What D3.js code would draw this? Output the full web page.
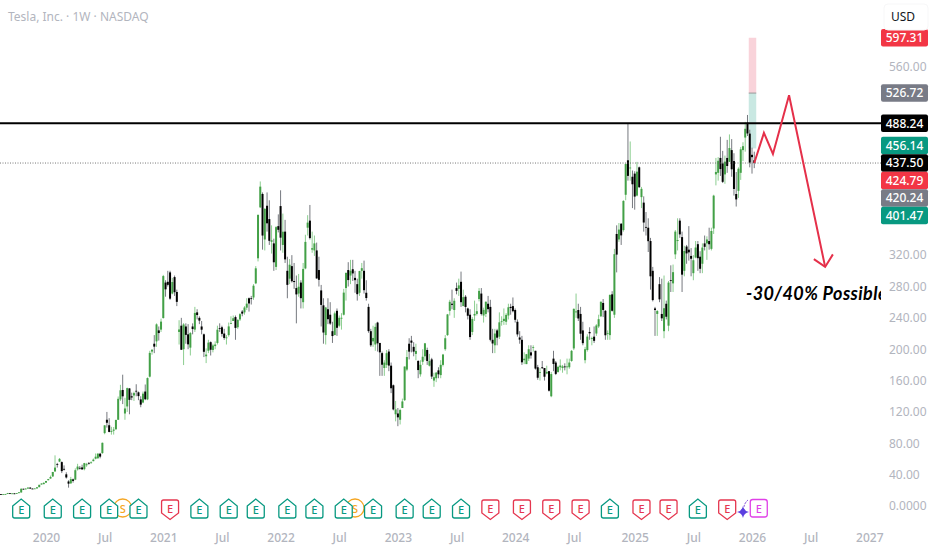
<!DOCTYPE html>
<html><head><meta charset="utf-8">
<style>html,body{margin:0;padding:0;background:#fff;overflow:hidden}svg{display:block}
text{font-family:"Noto Sans",sans-serif}</style>
<script src="https://cdn.jsdelivr.net/npm/d3@7"></script></head><body>
<svg id="c" width="932" height="550"></svg>
<script>
const firstBar = "2019-08-19", lastBar = "2026-01-12";
const opens = [
// 2019
15.1,14.6,15.0,15.3,16.3,16.0,16.1,15.5,16.5,17.3, 22.0,21.4,22.2,23.4,22.2,22.0,22.4,24.0,27.4,27.9,
// 2020
29.8,32.9,35.0,37.7,44.0,53.6,56.6,56.0,47.4,40.4, 31.3,28.9,34.0,33.6,46.6,48.7,49.2,47.0,52.0,55.0,
55.0,57.2,60.3,61.0,66.7,67.5,93.0,110.0,103.0,94.8, 96.0,98.0,110.0,136.0,148.0,118.0,127.0,150.0,140.0,141.0,
147.0,145.0,136.0,132.0,146.0,136.0,165.0,197.0,207.0,210.0, 224.0,225.0,
// 2021
239.8,285.0,286.0,298.0,271.0,292.0,273.0,222.0,230.0,200.0, 229.0,219.0,202.0,229.0,225.0,247.0,240.0,229.0,219.0,191.0,
198.0,209.0,199.0,204.0,208.0,227.0,228.0,220.0,215.0,218.0, 233.0,236.0,241.0,228.0,238.0,248.0,247.0,253.0,265.0,265.0,
266.0,284.0,316.0,381.0,398.0,340.0,383.0,366.0,337.0,335.0, 305.0,357.0,
// 2022
382.6,333.0,350.0,300.0,290.0,306.0,287.0,278.0,271.0,285.0, 260.0,303.0,355.0,364.0,327.0,326.0,326.0,301.0,275.0,256.0,
218.0,251.0,244.0,223.0,218.0,249.0,230.0,239.0,244.0,278.0, 301.0,294.0,302.0,291.0,283.0,272.0,300.0,300.0,272.0,254.0,
223.0,210.0,206.0,234.0,208.0,195.0,176.0,180.0,197.0,179.0, 154.0,117.0,
// 2023
118.0,110.0,125.0,135.0,174.0,207.0,211.0,203.0,194.0,185.0, 168.0,184.0,191.0,199.0,179.0,187.0,160.0,163.0,173.0,167.0,
180.0,200.0,218.0,249.0,258.0,250.0,278.0,277.0,286.0,255.0, 267.0,252.0,244.0,222.0,243.0,245.0,264.0,271.0,243.0,245.0,
258.0,254.0,212.0,205.0,224.0,216.0,235.0,236.0,235.0,243.0, 254.0,255.0,
// 2024
250.0,235.0,215.0,212.0,186.0,181.0,188.0,196.0,202.0,198.0, 177.0,170.0,177.0,176.0,169.0,172.0,140.0,188.0,183.0,171.0,
177.0,176.0,178.0,177.0,177.0,185.0,201.0,247.0,250.0,245.0, 224.0,186.0,199.0,222.0,214.0,216.0,220.0,229.0,242.0,259.0,
249.0,220.0,218.0,270.0,244.0,347.0,340.0,360.0,352.0,397.0, 441.0,431.0,420.0,
// 2025
424.0,396.0,432.0,394.0,387.0,356.0,355.0,338.0,300.0,252.0, 245.0,283.0,245.0,223.0,258.0,230.0,288.0,284.0,321.0,338.0,
364.0,343.0,300.0,331.0,327.0,319.0,297.0,317.0,334.0,318.0, 309.0,335.0,335.0,338.0,328.0,354.0,423.0,425.0,444.0,437.0,
423.0,444.0,439.0,454.0,440.0,398.0,402.0,425.0,454.0,470.0, 489.0,475.0,
// 2026
448.0,441.0];
const highs = [
15.3,15.2,15.5,16.7,16.4,16.6,16.2,16.6,17.8,22.7, 22.0,22.7,23.8,24.2,22.5,22.6,24.2,27.2,29.0,30.3,
32.0,34.6,38.8,43.5,64.6,55.0,61.2,56.9,51.8,43.0, 32.9,37.1,35.0,48.0,53.8,51.0,52.7,55.0,55.0,55.9,
57.0,60.6,67.0,67.5,67.8,81.0,103.0,120.0,112.0,101.0, 100.7,110.0,139.7,154.6,167.5,138.0,151.0,150.3,144.6,145.8,
155.3,146.0,140.0,146.0,155.0,164.0,198.0,200.0,218.0,233.0, 229.0,239.0,
294.8,288.0,300.0,300.1,291.0,294.0,276.0,237.0,240.0,233.3, 233.0,232.0,222.0,233.0,254.0,251.0,242.0,236.0,220.0,201.0,
212.0,210.0,207.0,210.0,230.0,233.0,230.0,226.0,218.0,234.0, 242.0,243.0,243.0,238.0,246.0,250.0,255.0,265.0,266.0,268.0,
283.0,306.0,372.0,414.0,400.0,380.0,400.0,390.0,358.0,341.0, 357.0,372.0,
402.7,373.0,365.0,318.0,315.0,320.0,310.0,294.0,296.0,288.0, 310.0,346.0,371.0,384.0,350.0,345.0,336.0,318.0,282.0,265.0,
254.0,265.0,260.0,235.0,248.0,252.0,243.0,246.0,277.0,298.0, 311.0,314.0,314.0,300.0,290.0,300.0,310.0,313.0,288.0,258.0,
226.0,230.0,233.0,235.0,208.0,197.0,186.0,199.0,200.0,183.0, 155.0,134.0,
125.0,124.0,137.0,178.0,199.0,214.0,217.0,209.0,207.0,186.0, 186.0,200.0,208.0,202.0,194.0,189.0,170.0,171.0,177.0,186.0,
194.0,218.0,245.0,263.0,276.0,265.0,285.0,290.0,299.0,276.0, 269.0,253.0,251.0,241.0,262.0,258.0,278.0,278.0,253.0,261.0,
268.0,263.0,226.0,226.0,226.0,247.0,242.0,252.0,246.0,258.0, 258.0,266.0,
252.0,238.0,223.0,217.0,196.0,194.0,205.0,205.0,205.0,198.0, 180.0,176.0,185.0,176.0,179.0,172.0,171.0,198.0,185.0,179.0,
187.0,180.0,182.0,188.0,188.0,199.0,252.0,271.0,258.0,254.0, 235.0,203.0,219.0,228.0,216.0,229.0,232.0,244.0,261.0,264.0,
250.0,224.0,270.0,274.0,328.0,358.0,361.0,361.0,390.0,437.0, 488.5,465.0,428.0,
427.0,439.0,433.0,407.0,395.0,375.0,367.0,342.0,305.0,254.0, 250.0,292.0,290.0,294.0,262.0,287.0,307.0,308.0,352.0,367.0,
367.0,350.0,332.0,333.0,357.0,329.0,320.0,338.0,338.0,325.0, 335.0,345.0,344.0,355.0,355.0,397.0,444.0,445.0,471.0,453.0,
447.0,467.0,474.0,468.0,450.0,426.0,432.0,458.0,464.0,490.0, 498.8,480.0,
457.0,452.0];
const lows = [
14.0,14.5,14.9,15.2,15.8,15.6,15.1,15.3,16.2,16.9, 20.9,21.2,22.0,22.0,21.8,21.9,22.2,23.9,27.3,27.7,
29.3,32.7,34.8,37.0,44.0,49.0,56.0,42.0,45.3,35.0, 23.4,28.2,29.8,33.0,45.2,46.5,46.0,45.5,50.0,52.8,
54.0,57.0,59.5,60.0,60.8,66.5,91.5,100.0,94.0,91.0, 91.1,96.9,110.0,134.0,130.0,110.0,120.0,117.0,135.0,134.0,
140.0,135.0,126.0,131.0,135.0,135.0,164.0,193.0,195.0,203.0, 211.0,222.0,
239.0,267.0,280.0,263.0,270.0,268.0,255.0,206.0,199.0,179.8, 207.0,200.0,192.0,219.0,222.0,238.0,232.0,219.0,190.0,182.3,
195.0,192.0,196.0,200.0,206.0,222.0,216.0,212.0,206.0,216.0, 232.0,236.0,212.0,226.0,236.0,242.0,244.0,250.0,248.0,257.0,
263.0,283.0,312.0,380.0,327.0,326.0,350.0,333.0,322.0,300.0, 301.0,349.0,
326.0,323.0,310.0,265.0,283.0,285.0,277.0,233.0,267.0,252.0, 252.0,302.0,345.0,340.0,323.0,319.0,290.0,280.0,229.0,207.0,
206.0,232.0,231.0,208.0,218.0,217.0,228.0,225.0,243.0,262.0, 280.0,283.0,287.0,272.0,262.0,268.0,290.0,271.0,262.0,221.0,
203.0,203.0,198.0,197.0,166.0,166.0,166.0,176.0,172.0,144.0, 122.0,108.0,
101.8,104.0,127.0,134.0,172.0,187.0,196.0,191.0,186.0,163.0, 165.0,180.0,186.0,180.0,178.0,162.0,152.0,158.0,163.0,163.0,
178.0,198.0,217.0,243.0,251.0,240.0,270.0,268.0,254.0,255.0, 247.0,238.0,212.0,218.0,236.0,243.0,261.0,243.0,234.0,241.0,
247.0,210.0,195.0,195.0,205.0,213.0,230.0,231.0,231.0,238.0, 244.0,247.0,
234.0,216.0,207.0,180.0,181.0,181.0,185.0,188.0,197.0,174.0, 161.0,160.0,175.0,160.0,168.0,146.0,138.8,172.0,167.0,170.0,
173.0,170.0,173.0,168.0,175.0,184.0,199.0,240.0,236.0,212.0, 205.0,182.0,197.0,212.0,205.0,208.0,217.0,227.0,241.0,241.0,
212.0,212.0,212.0,248.0,240.0,298.0,337.0,333.0,350.0,390.0, 415.0,415.0,380.0,
378.0,395.0,406.0,380.0,350.0,345.0,324.0,276.0,261.0,217.0, 217.0,260.0,236.0,214.0,238.0,223.0,273.0,273.0,315.0,326.0,
342.0,273.0,293.0,309.0,313.0,293.0,288.0,316.0,300.0,297.0, 297.0,326.0,314.0,327.0,326.0,347.0,409.0,415.0,421.0,412.0,
411.0,425.0,439.0,420.0,396.0,382.0,393.0,416.0,440.0,452.0, 472.0,432.0,
424.0,431.0];
const closes = [
14.2,15.0,15.2,16.4,16.0,16.1,15.5,16.4,17.5,21.9, 21.3,22.2,23.5,22.2,22.0,22.4,23.9,27.0,28.7,29.5,
31.9,34.3,37.0,43.4,49.0,53.5,60.1,44.5,46.9,36.4, 28.5,34.3,32.0,45.7,50.3,48.3,46.8,54.7,53.3,54.7,
55.7,59.2,62.9,66.7,63.0,80.6,102.9,106.2,94.5,95.4, 97.5,109.8,136.7,147.6,139.9,124.4,150.4,135.4,138.4,144.0,
146.6,140.2,129.3,143.3,136.2,163.2,195.3,199.3,203.3,231.7, 220.6,235.2,
293.3,276.4,282.1,264.5,285.7,272.8,260.4,225.2,199.3,231.6, 218.3,206.2,220.6,225.7,246.3,243.6,236.5,224.9,196.7,193.2,
208.4,199.3,204.8,206.0,224.9,226.6,219.6,214.4,215.0,229.1, 233.3,239.5,227.2,237.5,244.7,245.4,253.2,258.1,258.4,264.5,
281.0,303.2,371.3,407.4,345.0,379.0,360.6,338.3,339.0,310.9, 355.7,352.3,
342.3,349.9,314.6,282.1,307.8,286.7,285.7,269.9,279.7,265.1, 302.4,336.9,361.5,341.8,328.9,335.0,290.3,288.5,256.5,221.3,
253.2,238.3,232.7,216.8,245.7,227.3,240.1,240.1,272.2,297.3, 288.2,300.0,296.7,288.1,270.2,299.7,303.4,275.3,265.3,223.1,
205.0,214.4,228.5,207.5,196.0,180.2,182.9,194.9,179.1,150.2, 123.2,123.2,
113.1,122.4,133.4,177.9,190.0,196.9,208.3,196.9,197.8,173.4, 180.1,190.4,207.5,185.0,185.0,165.1,164.3,170.1,168.0,180.1,
193.2,214.0,244.4,260.5,256.6,261.8,274.4,281.4,260.0,266.4, 253.9,242.7,215.5,238.6,245.0,248.5,274.4,244.9,250.2,260.5,
251.1,212.0,207.3,220.0,214.7,234.3,235.6,238.8,243.8,253.5, 252.5,248.5,
237.5,218.9,212.2,183.3,187.9,193.6,200.0,192.0,202.6,175.3, 163.6,170.8,175.8,164.9,171.1,147.1,168.3,181.2,168.5,177.5,
179.2,178.1,177.5,178.0,183.0,197.9,251.5,248.2,239.2,219.8, 207.7,200.0,216.1,220.3,214.1,210.7,230.3,238.3,260.5,250.1,
217.8,220.7,269.2,249.0,321.2,320.7,352.6,345.2,389.2,436.2, 421.1,431.7,410.4,
394.7,426.5,406.6,404.6,361.6,355.8,337.8,293.0,262.7,250.0, 248.7,263.6,239.4,252.3,241.4,285.0,287.2,298.3,350.0,339.3,
346.5,295.1,325.3,322.2,323.6,315.4,313.5,329.7,316.1,302.6, 329.7,330.6,340.0,333.9,350.8,395.9,426.1,440.4,429.8,413.5,
439.3,433.7,456.6,429.5,404.4,391.1,430.2,455.0,459.0,481.2, 475.2,438.1,
445.0,437.5];

const xTickDates = ["2020-01-06","2020-07-06","2021-01-04","2021-07-05","2022-01-03","2022-07-04","2023-01-02","2023-07-03","2024-01-01","2024-07-01","2025-01-06","2025-07-07","2026-01-05","2026-07-06","2027-01-04"];
const xTickLabels = ["2020","Jul","2021","Jul","2022","Jul","2023","Jul","2024","Jul","2025","Jul","2026","Jul","2027"];
const yTicks = [0,40,80,120,160,200,240,280,320,560];

const priceLabels = [597.31,526.72,488.24,456.14,437.50,424.79,420.24,401.47];
const priceLabelColors = ["#f23645","#787b86","#000000","#089981","#000000","#f23645","#787b86","#089981"];
const resistance = 488.24, lastPrice = 437.50;
const stopPrice = 597.31, entryPrice = 526.72, targetPrice = 456.14;
const positionDates = ["2025-12-29","2026-01-19"];

const forecastDates = ["2026-01-12","2026-02-11","2026-03-11","2026-04-30","2026-08-20"];
const forecastPrices = [437.5,476,449,524,305];
const arrowDates = ["2026-07-16","2026-08-20","2026-09-13"];
const arrowPrices = [315,305,321];

const earningsDates = ["2019-10-21","2020-01-27","2020-04-27","2020-07-20","2020-10-19","2021-01-25","2021-04-26","2021-07-26","2021-10-18","2022-01-24","2022-04-18","2022-07-18","2022-10-17","2023-01-23","2023-04-17","2023-07-17","2023-10-16","2024-01-22","2024-04-22","2024-07-22","2024-10-21","2025-01-27","2025-04-21","2025-07-21","2025-10-20"];
const earningsBeat = [1,1,1,1,1,0,1,1,1,1,1,1,1,1,1,1,0,0,0,0,1,0,0,1,0];
const nextEarningsDate = "2026-01-26";
const splitDates = ["2020-08-31","2022-08-22"];
const dividendStarDate = "2025-12-08";

const d = s => new Date(s + "T00:00:00Z");
const x = d3.scaleUtc().domain([d("2020-01-06"), d("2026-01-05")]).range([46, 752]);
const y = d3.scaleLinear().domain([0, 560]).range([506, 67]);
const weeks = d3.utcMonday.range(d(firstBar), d3.utcDay.offset(d(lastBar), 1));
const bars = weeks.map((t, i) => ({t, o: opens[i], h: highs[i], l: lows[i], c: closes[i]}));

const svg = d3.select("#c");
const PLOT_W = 881;
svg.append("defs").append("clipPath").attr("id","plot").append("rect").attr("width",PLOT_W).attr("height",550);
const plot = svg.append("g").attr("clip-path","url(#plot)");

const UP="#43a047", DOWN="#000000", UPW="#7fc883", DOWNW="#666a70";

// position tool
const px0 = x(d(positionDates[0])) - 1, pxw = 7.5;
plot.append("rect").attr("x",px0).attr("width",pxw).attr("y",y(stopPrice)).attr("height",y(entryPrice)-y(stopPrice)).attr("fill","#f9d3da");
plot.append("rect").attr("x",px0).attr("width",pxw).attr("y",y(entryPrice)).attr("height",y(targetPrice)-y(entryPrice)).attr("fill","#c9e8e2");
plot.append("line").attr("x1",px0).attr("x2",px0+pxw).attr("y1",y(entryPrice)).attr("y2",y(entryPrice)).attr("stroke","#9a9a9a");

// candles
plot.append("g").selectAll("line").data(bars).join("line")
  .attr("x1",b=>x(b.t)).attr("x2",b=>x(b.t)).attr("y1",b=>y(b.h)).attr("y2",b=>y(b.l))
  .attr("stroke",b=>b.c>=b.o?UPW:DOWNW).attr("stroke-width",0.9);
plot.append("g").selectAll("rect").data(bars).join("rect")
  .attr("x",b=>x(b.t)-1).attr("width",2)
  .attr("y",b=>y(Math.max(b.o,b.c))).attr("height",b=>Math.max(0.8,Math.abs(y(b.o)-y(b.c))))
  .attr("fill",b=>b.c>=b.o?UP:DOWN);

// lines
plot.append("line").attr("x1",0).attr("x2",PLOT_W).attr("y1",y(lastPrice)).attr("y2",y(lastPrice))
  .attr("stroke","#555").attr("stroke-width",0.8).attr("stroke-dasharray","1 1.5");
plot.append("line").attr("x1",0).attr("x2",PLOT_W).attr("y1",y(resistance)).attr("y2",y(resistance))
  .attr("stroke","#000").attr("stroke-width",2);

const ln = d3.line().x(p=>x(d(p[0]))).y(p=>y(p[1]));
plot.append("path").attr("d",ln(d3.zip(forecastDates,forecastPrices))).attr("fill","none").attr("stroke","#e5304a").attr("stroke-width",2);
plot.append("path").attr("d",ln(d3.zip(arrowDates,arrowPrices))).attr("fill","none").attr("stroke","#e5304a").attr("stroke-width",2);

plot.append("text").attr("x",746).attr("y",300).attr("font-size",18).attr("font-weight",700).attr("font-style","italic")
  .attr("letter-spacing",0.4).attr("fill","#000").style("font-family","Lato,sans-serif").text("-30/40% Possible");

// markers
const TEAL="#089981", RED="#e5364f", MAG="#e040e8";
const marker = (cx,color,up)=>{
  const g = svg.append("g").attr("transform",`translate(${cx},0)`);
  const dp = up ? "M-8.5,506 L0,499 L8.5,506 L8.5,516 Q8.5,518 6.5,518 L-6.5,518 Q-8.5,518 -8.5,516 Z"
                : "M-8.5,502 Q-8.5,500 -6.5,500 L6.5,500 Q8.5,500 8.5,502 L8.5,513 L0,519.5 L-8.5,513 Z";
  g.append("path").attr("d",dp).attr("fill","#fff").attr("stroke",color).attr("stroke-width",1.3);
  g.append("text").attr("text-anchor","middle").attr("y",up?513.5:512.5).attr("font-size",11).attr("font-weight",500).attr("fill",color).text("E");
};
splitDates.forEach(s=>{
  const cx = x(d(s));
  const g = svg.append("g");
  g.append("circle").attr("cx",cx).attr("cy",508).attr("r",9).attr("fill","#fff").attr("stroke","#f5a623").attr("stroke-width",1.3);
  g.append("text").attr("x",cx).attr("y",512.5).attr("text-anchor","middle").attr("font-size",11).attr("font-weight",500).attr("fill","#f5a623").text("S");
});
earningsDates.forEach((s,i)=>marker(x(d(s)), earningsBeat[i]?TEAL:RED, !!earningsBeat[i]));

const nx = x(d(nextEarningsDate));
const sx = x(d(dividendStarDate));
svg.append("path").attr("d",`M${sx+5},500 Q${sx+1.5},503 ${sx+1},507`).attr("fill","none").attr("stroke","#7e3fd6").attr("stroke-width",1).attr("stroke-dasharray","2 1");
svg.append("path").attr("d","M0,-6 Q1,-1 6,0 Q1,1 0,6 Q-1,1 -6,0 Q-1,-1 0,-6 Z").attr("transform",`translate(${sx},512)`).attr("fill","#5b3fe0");
svg.append("rect").attr("x",nx-8.5).attr("y",499.5).attr("width",17).attr("height",17.5).attr("rx",2.5).attr("fill","#fff").attr("stroke",MAG).attr("stroke-width",1.3);
svg.append("text").attr("x",nx).attr("y",512.5).attr("text-anchor","middle").attr("font-size",11).attr("font-weight",500).attr("fill",MAG).text("E");

// axes
const TXT="#b2b5be";
const xAxis = d3.axisBottom(x).tickValues(xTickDates.map(d)).tickFormat((t,i)=>xTickLabels[i]).tickSize(0);
svg.append("g").attr("transform","translate(0,530)").call(xAxis).call(g=>{
  g.select(".domain").remove();
  g.selectAll("text").attr("fill",TXT).attr("font-size",12).style("font-family",'"Noto Sans",sans-serif').attr("font-weight",500);
});
const yAxis = d3.axisRight(y).tickValues(yTicks).tickFormat(v=>v===0?"0.0000":d3.format(".2f")(v)).tickSize(0);
svg.append("g").attr("transform","translate(887,0)").call(yAxis).call(g=>{
  g.select(".domain").remove();
  g.selectAll("text").attr("fill",TXT).attr("font-size",12).attr("x",2).style("font-family",'"Noto Sans",sans-serif');
});

// price labels, stacked around the last price so they do not overlap
const LH = 17.5;
const laid = priceLabels.map((v,i)=>({v,color:priceLabelColors[i],py:y(v)}));
const anchor = laid.findIndex(l=>l.v===lastPrice);
for(let i=anchor+1;i<laid.length;i++) laid[i].py=Math.max(laid[i].py,laid[i-1].py+LH);
for(let i=anchor-1;i>=0;i--) laid[i].py=Math.min(laid[i].py,laid[i+1].py-LH);
const lab = svg.append("g").selectAll("g").data(laid).join("g").attr("transform",l=>`translate(881,${l.py-8.75})`);
lab.append("rect").attr("width",47).attr("height",17.5).attr("rx",2).attr("fill",l=>l.color);
lab.append("text").attr("x",23.5).attr("y",13).attr("text-anchor","middle").attr("font-size",12).attr("font-weight",500).attr("fill","#fff").text(l=>l.v.toFixed(2));

// USD button & title
svg.append("rect").attr("x",884).attr("y",4).attr("width",44).attr("height",26).attr("rx",4).attr("fill","#fff").attr("stroke","#f7f7f8");
svg.append("text").attr("x",903).attr("y",21).attr("text-anchor","middle").attr("font-size",12).attr("fill","#131722").text("USD");
svg.append("text").attr("x",8).attr("y",21).attr("font-size",12).attr("fill",TXT).text("Tesla, Inc. · 1W · NASDAQ");
</script>
</body></html>
